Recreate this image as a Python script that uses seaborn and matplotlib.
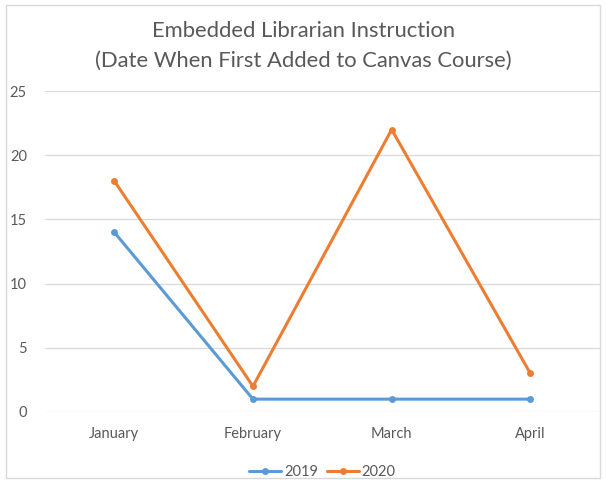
import matplotlib
matplotlib.use("Agg")
import matplotlib.pyplot as plt
import seaborn as sns
import pandas as pd
from matplotlib.patches import Rectangle

months = ["January", "February", "March", "April"]
series_2019 = [14, 1, 1, 1]
series_2020 = [18, 2, 22, 3]
yticks = [0, 5, 10, 15, 20, 25]

df = pd.DataFrame({
    "Month": months * 2,
    "Value": series_2019 + series_2020,
    "Year": ["2019"] * 4 + ["2020"] * 4,
})

sns.set_theme(style="white")
plt.rcParams["font.family"] = ["Lato", "DejaVu Sans"]

fig = plt.figure(figsize=(6.07, 4.8), dpi=100)
ax = fig.add_axes([0.074, 0.1417, 0.914, 0.6687])

palette = {"2019": "#5B9BD5", "2020": "#ED7D31"}
sns.lineplot(data=df, x="Month", y="Value", hue="Year", palette=palette,
             marker="o", markersize=5, markeredgewidth=0, linewidth=2.2,
             sort=False, ax=ax, legend=True)

ax.set_xlim(-0.5, 3.5)
ax.set_ylim(0, 25)
ax.set_yticks(yticks)
ax.set_yticklabels([str(v) for v in yticks])
ax.set_xlabel("")
ax.set_ylabel("")
for s in ax.spines.values():
    s.set_visible(False)
ax.grid(axis="y", color="#D9D9D9", linewidth=0.9)
ax.set_axisbelow(True)
ax.tick_params(axis="both", length=0, colors="#595959", labelsize=10.5)
ax.tick_params(axis="y", pad=13)
ax.tick_params(axis="x", pad=11)

handles, labels = ax.get_legend_handles_labels()
ax.legend(handles, labels, loc="upper center", bbox_to_anchor=(0.5, -0.125),
          ncol=2, frameon=False, fontsize=10.5, handlelength=2.2,
          columnspacing=0.6, handletextpad=0.2, labelcolor="#595959")

fig.text(0.5, 0.935, "Embedded Librarian Instruction", ha="center", va="center",
         fontsize=15.8, color="#595959")
fig.text(0.5, 0.873, "(Date When First Added to Canvas Course)", ha="center",
         va="center", fontsize=15.8, color="#595959")

fig.patches.append(Rectangle((0.01, 0.004), 0.978, 0.985, transform=fig.transFigure,
                             fill=False, edgecolor="#D9D9D9", linewidth=1))

fig.savefig("out.png", dpi=100)
